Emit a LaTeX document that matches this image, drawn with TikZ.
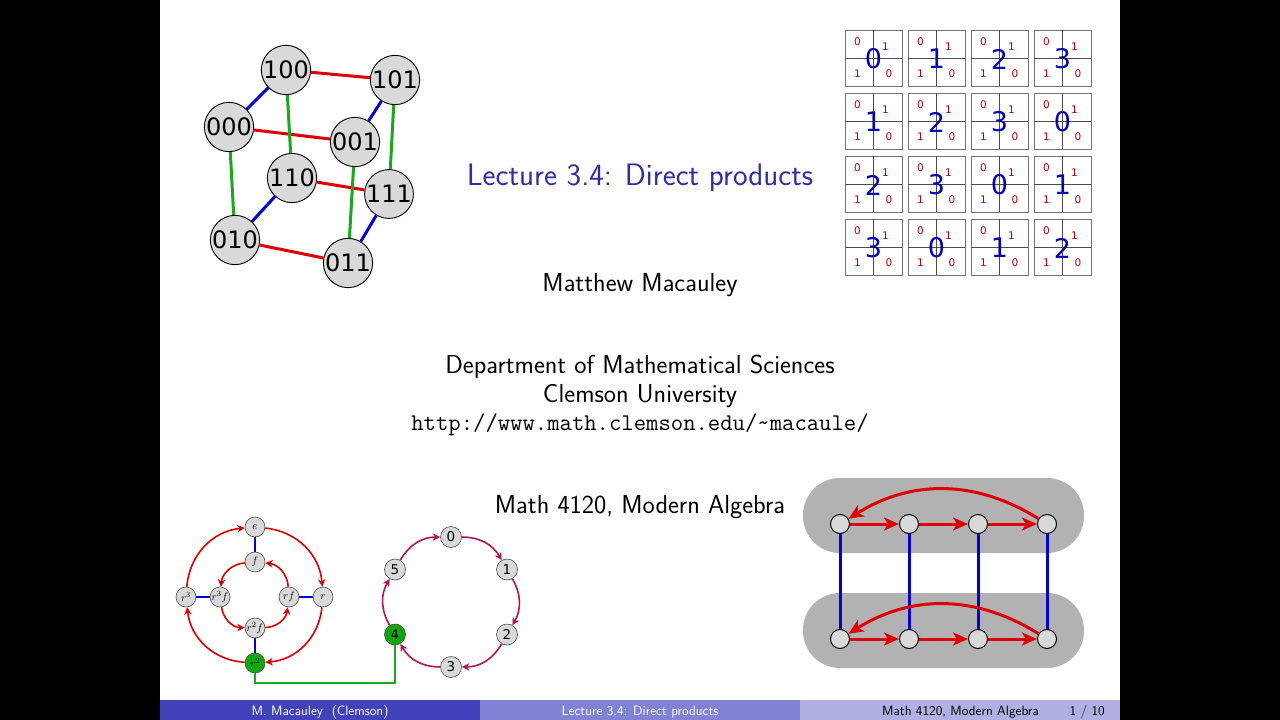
\documentclass[tikz,border=0pt]{standalone}
\usepackage{fontspec}
\newfontfamily\dejavu{DejaVu Sans}
\usetikzlibrary{arrows.meta}
\definecolor{titleblue}{RGB}{45,45,165}
\definecolor{edgered}{RGB}{222,0,0}
\definecolor{edgeblue}{RGB}{0,0,215}
\definecolor{edgegreen}{RGB}{25,170,25}
\definecolor{nodegray}{RGB}{217,217,217}
\definecolor{cosetgray}{RGB}{178,178,178}
\definecolor{cycpurple}{RGB}{180,20,85}
\definecolor{greenfill}{RGB}{10,170,10}
\definecolor{footA}{RGB}{66,66,186}
\definecolor{footB}{RGB}{130,130,212}
\definecolor{footC}{RGB}{176,176,226}

\begin{document}
\begin{tikzpicture}[
  x=1pt, y=-1pt,
  slidetext/.style={anchor=base, inner sep=0pt, font=\sffamily\fontsize{26}{31}\selectfont},
  foottext/.style={anchor=base, inner sep=0pt, font=\sffamily\fontsize{13.5}{16}\selectfont},
  cubenode/.style={circle, draw=black, line width=0.9pt, fill=nodegray, minimum size=44pt, inner sep=0pt, font=\dejavu\fontsize{24}{28}\selectfont},
  cubeedge/.style={line width=3pt},
  tilebox/.style={draw=black!55, line width=0.8pt, minimum width=57pt, minimum height=56pt, inner sep=0pt},
  tilecross/.style={draw=black!70, line width=0.7pt},
  tilesmall/.style={inner sep=0pt, text=edgered!85!black, font=\dejavu\fontsize{10.5}{12}\selectfont},
  tilebig/.style={inner sep=0pt, text=edgeblue!85!black, font=\dejavu\fontsize{27}{30}\selectfont},
  dnode/.style={circle, draw=black!70, line width=0.6pt, fill=nodegray, minimum size=20pt, inner sep=0pt, font=\fontsize{11}{12}\selectfont},
  darrow/.style={edgered, line width=1.6pt, -{Stealth[length=7.5pt,width=7.5pt]}},
  znode/.style={circle, draw=black!70, line width=0.6pt, fill=nodegray, minimum size=21pt, inner sep=0pt, font=\dejavu\fontsize{13.5}{15}\selectfont},
  zarrow/.style={cycpurple, line width=1.6pt, -{Stealth[length=7.5pt,width=7.5pt]}, bend left=30},
  cosetbox/.style={fill=cosetgray, minimum width=281pt, minimum height=75pt, rounded corners=37pt, inner sep=0pt},
  bnode/.style={circle, draw=black, line width=1pt, fill=nodegray, minimum size=19pt, inner sep=0pt},
  barrow/.style={edgered, line width=3pt, -{Stealth[length=15pt,width=13pt,inset=4pt]}}
]
% frame and sidebars
\fill[black] (0,0) rectangle (160,720);
\fill[black] (1120,0) rectangle (1280,720);
\fill[white] (160,0) rectangle (1120,700);
\useasboundingbox (0,0) rectangle (1280,720);

% title page text
\node[slidetext, text=titleblue, font=\sffamily\fontsize{31}{37}\selectfont] (title) at (640,185) {Lecture 3.4: Direct products};
\node[slidetext] (author) at (640,291) {Matthew Macauley};
\node[slidetext] (dept) at (640,373) {Department of Mathematical Sciences};
\node[slidetext] (univ) at (640,402) {Clemson University};
\node[slidetext, font=\ttfamily\fontsize{24}{29}\selectfont] (url) at (640,430) {http://www.math.clemson.edu/\char`\~macaule/};
\node[slidetext] (course) at (640,513) {Math 4120, Modern Algebra};

% cube
\node[cubenode] (c100) at (286,70) {100};
\node[cubenode] (c101) at (395,80) {101};
\node[cubenode] (c000) at (229,127) {000};
\node[cubenode] (c001) at (355,142) {001};
\node[cubenode] (c110) at (292,178) {110};
\node[cubenode] (c111) at (389,194) {111};
\node[cubenode] (c010) at (235,240) {010};
\node[cubenode] (c011) at (348,263) {011};

\draw[cubeedge, edgered] (c100) -- (c101);
\draw[cubeedge, edgered] (c000) -- (c001);
\draw[cubeedge, edgered] (c110) -- (c111);
\draw[cubeedge, edgered] (c010) -- (c011);
\draw[cubeedge, edgeblue] (c000) -- (c100);
\draw[cubeedge, edgeblue] (c001) -- (c101);
\draw[cubeedge, edgeblue] (c010) -- (c110);
\draw[cubeedge, edgeblue] (c011) -- (c111);
\draw[cubeedge, edgegreen] (c000) -- (c010);
\draw[cubeedge, edgegreen] (c100) -- (c110);
\draw[cubeedge, edgegreen] (c001) -- (c011);
\draw[cubeedge, edgegreen] (c101) -- (c111);

% addition table tiles
\foreach \i in {0,...,3}{
  \foreach \j in {0,...,3}{
    \pgfmathtruncatemacro{\v}{mod(\i+\j,4)}
    \node[tilebox] (t\i\j) at ({873.5+63*\j},{58+63*\i}) {};
    \draw[tilecross] (t\i\j.north) -- (t\i\j.south);
    \draw[tilecross] (t\i\j.west) -- (t\i\j.east);
    \node[tilesmall] (tl\i\j) at ([shift={(-16,-16)}]t\i\j.center) {0};
    \node[tilesmall] (tr\i\j) at ([shift={(12,-11)}]t\i\j.center) {1};
    \node[tilesmall] (bl\i\j) at ([shift={(-16,16)}]t\i\j.center) {1};
    \node[tilesmall] (br\i\j) at ([shift={(15.5,16)}]t\i\j.center) {0};
    \node[tilebig] (v\i\j) at ([shift={(0,1)}]t\i\j.center) {\v};
  }
}

% D4 graph
\node[dnode] (de) at (255,527) {$e$};
\node[dnode] (df) at (255,562) {$f$};
\node[dnode] (dr3) at (186,597) {$r^3$};
\node[dnode] (dr3f) at (220,597) {$r^3f$};
\node[dnode] (drf) at (289,597) {$rf$};
\node[dnode] (dr) at (323,597) {$r$};
\node[dnode] (dr2f) at (255,628) {$r^2f$};
\node[dnode, fill=greenfill] (dr2) at (255,663) {$r^2$};

\draw[edgeblue, line width=1.8pt] (de) -- (df);
\draw[edgeblue, line width=1.8pt] (dr3) -- (dr3f);
\draw[edgeblue, line width=1.8pt] (drf) -- (dr);
\draw[edgeblue, line width=1.8pt] (dr2f) -- (dr2);
\draw[darrow] (de) to[bend left=40] (dr);
\draw[darrow] (dr) to[bend left=40] (dr2);
\draw[darrow] (dr2) to[bend left=40] (dr3);
\draw[darrow] (dr3) to[bend left=40] (de);
\draw[darrow] (df) to[bend right=40] (dr3f);
\draw[darrow] (dr3f) to[bend right=40] (dr2f);
\draw[darrow] (dr2f) to[bend right=40] (drf);
\draw[darrow] (drf) to[bend right=40] (df);

% Z6 cycle
\node[znode] (z0) at (451,537) {0};
\node[znode] (z1) at (507,569.5) {1};
\node[znode] (z2) at (507,634.5) {2};
\node[znode] (z3) at (451,667) {3};
\node[znode, fill=greenfill] (z4) at (395,634.5) {4};
\node[znode] (z5) at (395,569.5) {5};

\draw[zarrow] (z0) to (z1);
\draw[zarrow] (z1) to (z2);
\draw[zarrow] (z2) to (z3);
\draw[zarrow] (z3) to (z4);
\draw[zarrow] (z4) to (z5);
\draw[zarrow] (z5) to (z0);
\draw[edgegreen, line width=2pt] (dr2.south) -- ++(0,10) -| (z4.south);

% Z4 x Z2 graph
\node[cosetbox] (upper) at (943.5,515.5) {};
\node[cosetbox] (lower) at (943.5,630.5) {};
\node[bnode] (a1) at (840,524) {};
\node[bnode] (a2) at (909,524) {};
\node[bnode] (a3) at (978,524) {};
\node[bnode] (a4) at (1047,524) {};
\node[bnode] (b1) at (840,639) {};
\node[bnode] (b2) at (909,639) {};
\node[bnode] (b3) at (978,639) {};
\node[bnode] (b4) at (1047,639) {};

\draw[edgeblue, line width=3pt] (a1) -- (b1);
\draw[edgeblue, line width=3pt] (a2) -- (b2);
\draw[edgeblue, line width=3pt] (a3) -- (b3);
\draw[edgeblue, line width=3pt] (a4) -- (b4);
\draw[barrow] (a1) -- (a2);
\draw[barrow] (a2) -- (a3);
\draw[barrow] (a3) -- (a4);
\draw[barrow] (a4) to[bend right=32] (a1);
\draw[barrow] (b1) -- (b2);
\draw[barrow] (b2) -- (b3);
\draw[barrow] (b3) -- (b4);
\draw[barrow] (b4) to[bend right=32] (b1);

% footline
\node[fill=footA, minimum width=320pt, minimum height=20pt, inner sep=0pt, anchor=north west] (footleft) at (160,700) {};
\node[fill=footB, minimum width=320pt, minimum height=20pt, inner sep=0pt, anchor=north west] (footmid) at (480,700) {};
\node[fill=footC, minimum width=320pt, minimum height=20pt, inner sep=0pt, anchor=north west] (footright) at (800,700) {};
\node[foottext, text=white] (footauthor) at (320,715) {M. Macauley\ \ (Clemson)};
\node[foottext, text=white] (foottitle) at (640,715) {Lecture 3.4: Direct products};
\node[foottext, anchor=base east] (footcourse) at (1039,715) {Math 4120, Modern Algebra};
\node[foottext, anchor=base east] (footpage) at (1105,715) {1 / 10};
\end{tikzpicture}
\end{document}
